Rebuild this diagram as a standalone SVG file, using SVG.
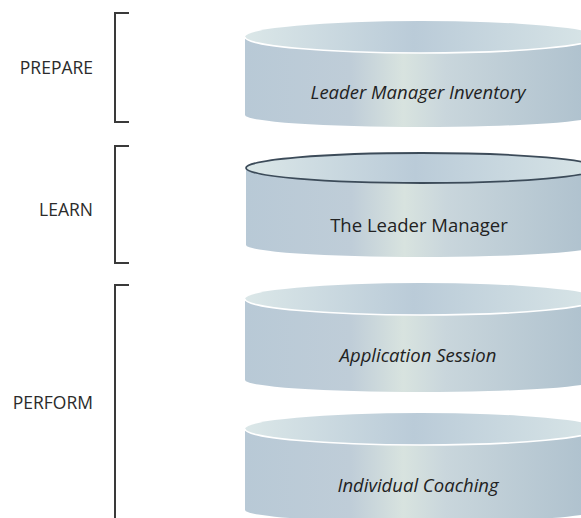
<svg xmlns="http://www.w3.org/2000/svg" width="581" height="518" viewBox="0 0 581 518">
  <defs>
    <linearGradient id="side" x1="0" y1="0" x2="1" y2="0">
      <stop offset="0" stop-color="#b8c9d6"/>
      <stop offset="0.3" stop-color="#bfcdd8"/>
      <stop offset="0.45" stop-color="#d8e3df"/>
      <stop offset="0.57" stop-color="#c9d6dc"/>
      <stop offset="1" stop-color="#adc0cd"/>
    </linearGradient>
    <linearGradient id="top" x1="0" y1="0" x2="1" y2="0">
      <stop offset="0" stop-color="#dbe7e8"/>
      <stop offset="0.48" stop-color="#bacbd8"/>
      <stop offset="1" stop-color="#d8e5e7"/>
    </linearGradient>
    <style>
      .label { font-family: "Open Sans", "Liberation Sans", sans-serif; font-size: 17.5px; fill: #2b2b2b; text-anchor: end; }
      .name { font-family: "Open Sans", "Liberation Sans", sans-serif; font-size: 18.5px; fill: #222222; text-anchor: middle; }
      .it { font-style: italic; }
      .bracket { fill: none; stroke: #3a3a3a; stroke-width: 2; }
      .body { fill: url(#side); }
      .lid { fill: url(#top); }
      .rim { fill: none; stroke: #ffffff; stroke-width: 1.6; }
      .edge { fill: none; stroke: #3c4b59; stroke-width: 1.8; }
    </style>
  </defs>
  <rect width="581" height="518" fill="#ffffff"/>

  <!-- phase brackets -->
  <g id="connectors">
    <path class="bracket" d="M129,13 H115 V122 H129"/>
    <path class="bracket" d="M129,146 H115 V263 H129"/>
    <path class="bracket" d="M129,285 H115 V520"/>
  </g>

  <g id="phase-prepare"><text class="label" x="93" y="74">PREPARE</text></g>
  <g id="phase-learn"><text class="label" x="93" y="216">LEARN</text></g>
  <g id="phase-perform"><text class="label" x="93" y="409">PERFORM</text></g>

  <!-- cylinders -->
  <g id="inventory">
    <path class="body" d="M245,37 V115 A176,12 0 0 0 597,115 V37 Z"/>
    <ellipse class="lid" cx="421" cy="37" rx="176" ry="16"/>
    <path class="rim" d="M245,37 A176,16 0 0 0 597,37"/>
    <text class="name it" x="418" y="99">Leader Manager Inventory</text>
  </g>

  <g id="leader-manager">
    <path class="body" d="M246,168 V245 A176,12 0 0 0 598,245 V168 Z"/>
    <ellipse class="lid" cx="422" cy="168" rx="176" ry="15"/>
    <ellipse class="edge" cx="422" cy="168" rx="176" ry="15"/>
    <text class="name" x="419" y="232">The Leader Manager</text>
  </g>

  <g id="application-session">
    <path class="body" d="M245,299 V380 A176,12 0 0 0 597,380 V299 Z"/>
    <ellipse class="lid" cx="421" cy="299" rx="176" ry="16"/>
    <path class="rim" d="M245,299 A176,16 0 0 0 597,299"/>
    <text class="name it" x="418" y="362">Application Session</text>
  </g>

  <g id="individual-coaching">
    <path class="body" d="M245,429 V510 A176,12 0 0 0 597,510 V429 Z"/>
    <ellipse class="lid" cx="421" cy="429" rx="176" ry="16"/>
    <path class="rim" d="M245,429 A176,16 0 0 0 597,429"/>
    <text class="name it" x="418" y="492">Individual Coaching</text>
  </g>
</svg>
